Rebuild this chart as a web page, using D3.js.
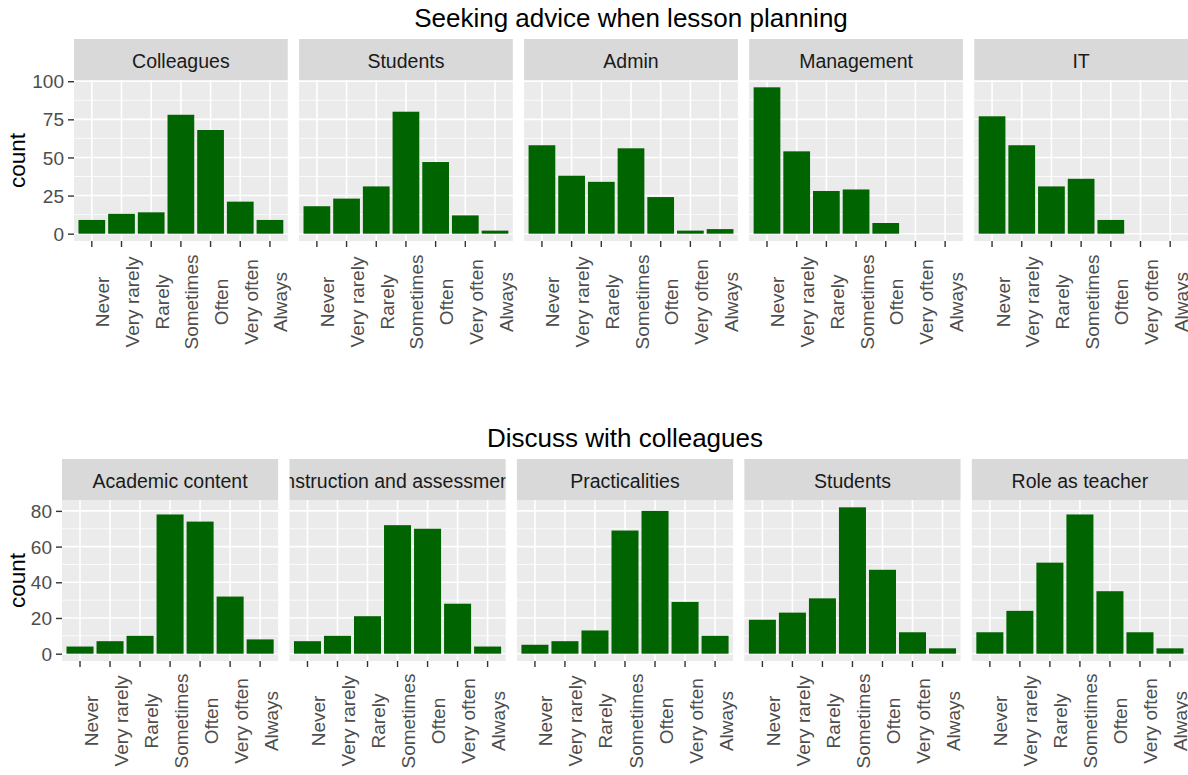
<!DOCTYPE html>
<html>
<head>
<meta charset="utf-8">
<script src="https://cdn.jsdelivr.net/npm/d3@7"></script>
<style>
  body { margin: 0; background: #fff; }
  svg { display: block; font-family: "Liberation Sans", Arial, sans-serif; }
  .strip-bg { fill: #d9d9d9; }
  .panel-bg { fill: #ebebeb; }
  .grid-major { stroke: #fff; stroke-width: 1.6; }
  .grid-minor { stroke: #fff; stroke-width: 0.8; }
  .bar { fill: #006400; }
  .axis line { stroke: #333; stroke-width: 1.4; }
  .axis text { fill: #4d4d4d; font-size: 19px; font-family: "Liberation Sans", Arial, sans-serif; }
  .strip-label { fill: #1a1a1a; font-size: 19.5px; }
  .axis-title { fill: #000; font-size: 22.5px; }
  .row-title { fill: #000; font-size: 26px; }
</style>
</head>
<body>
<div id="chart"></div>
<script>
// answer levels on the x axis
const levels = ["Never", "Very rarely", "Rarely", "Sometimes", "Often", "Very often", "Always"];

// Seeking advice when lesson planning
const adviceGroups = ["Colleagues", "Students", "Admin", "Management", "IT"];
const adviceColleagues = [9, 13, 14, 78, 68, 21, 9];
const adviceStudents = [18, 23, 31, 80, 47, 12, 2];
const adviceAdmin = [58, 38, 34, 56, 24, 2, 3];
const adviceManagement = [96, 54, 28, 29, 7, 0, 0];
const adviceIT = [77, 58, 31, 36, 9, 0, 0];
const adviceTicks = [0, 25, 50, 75, 100];

// Discuss with colleagues
const discussGroups = ["Academic content", "Instruction and assessment", "Practicalities", "Students", "Role as teacher"];
const discussAcademic = [4, 7, 10, 78, 74, 32, 8];
const discussInstruction = [7, 10, 21, 72, 70, 28, 4];
const discussPracticalities = [5, 7, 13, 69, 80, 29, 10];
const discussStudents = [19, 23, 31, 82, 47, 12, 3];
const discussRole = [12, 24, 51, 78, 35, 12, 3];
const discussTicks = [0, 20, 40, 60, 80];

class FacetBarRow {

  constructor(_config, _data) {
    this.config = _config;
    this.data = _data;
    this.initVis();
  }

  initVis() {
    let vis = this;
    const c = vis.config;

    vis.panelTop = c.stripTop + c.stripHeight;
    vis.panelHeight = c.panelBottom - vis.panelTop;
    vis.panelWidth = (c.right - c.left - c.gap * (vis.data.length - 1)) / vis.data.length;

    // ggplot style: 0.6 unit expansion each side, bars 0.9 wide
    vis.xScale = d3.scaleBand()
      .domain(levels)
      .range([0, vis.panelWidth])
      .paddingInner(0.1)
      .paddingOuter(0.15);

    const maxVal = d3.max(vis.data, d => d3.max(d.values));
    vis.yScale = d3.scaleLinear()
      .domain([-0.05 * maxVal, 1.05 * maxVal])
      .range([vis.panelHeight, 0]);

    vis.g = c.svg.append('g');

    // row title
    vis.g.append('text')
      .attr('class', 'row-title')
      .attr('x', (c.left + c.right) / 2)
      .attr('y', c.stripTop - 12)
      .attr('text-anchor', 'middle')
      .text(c.title);

    // y axis title
    vis.g.append('text')
      .attr('class', 'axis-title')
      .attr('transform', `translate(25,${vis.panelTop + vis.panelHeight / 2}) rotate(-90)`)
      .attr('text-anchor', 'middle')
      .text('count');

    vis.renderVis();
  }

  renderVis() {
    let vis = this;
    const c = vis.config;

    const ticks = c.ticks;
    const [lo, hi] = vis.yScale.domain();
    const minor = d3.pairs(ticks).map(([a, b]) => (a + b) / 2)
      .concat([ticks[0] - (ticks[1] - ticks[0]) / 2, ticks[ticks.length - 1] + (ticks[1] - ticks[0]) / 2])
      .filter(v => v > lo && v < hi);

    const panels = vis.g.selectAll('.panel')
      .data(vis.data)
      .join('g')
      .attr('class', 'panel')
      .attr('transform', (d, i) => `translate(${c.left + i * (vis.panelWidth + c.gap)},${vis.panelTop})`);

    // strip
    panels.append('clipPath')
      .attr('id', (d, i) => `${c.id}-clip-${i}`)
      .append('rect')
      .attr('y', -c.stripHeight)
      .attr('width', vis.panelWidth)
      .attr('height', c.stripHeight);

    panels.append('rect')
      .attr('class', 'strip-bg')
      .attr('y', -c.stripHeight)
      .attr('width', vis.panelWidth)
      .attr('height', c.stripHeight);

    panels.append('text')
      .attr('class', 'strip-label')
      .attr('clip-path', (d, i) => `url(#${c.id}-clip-${i})`)
      .attr('x', vis.panelWidth / 2)
      .attr('y', -12.5)
      .attr('text-anchor', 'middle')
      .text(d => d.name);

    // panel background + grid
    panels.append('rect')
      .attr('class', 'panel-bg')
      .attr('width', vis.panelWidth)
      .attr('height', vis.panelHeight);

    panels.selectAll('.grid-minor')
      .data(minor)
      .join('line')
      .attr('class', 'grid-minor')
      .attr('x2', vis.panelWidth)
      .attr('y1', d => vis.yScale(d))
      .attr('y2', d => vis.yScale(d));

    panels.selectAll('.grid-major.h')
      .data(ticks)
      .join('line')
      .attr('class', 'grid-major h')
      .attr('x2', vis.panelWidth)
      .attr('y1', d => vis.yScale(d))
      .attr('y2', d => vis.yScale(d));

    panels.selectAll('.grid-major.v')
      .data(levels)
      .join('line')
      .attr('class', 'grid-major v')
      .attr('x1', d => vis.xScale(d) + vis.xScale.bandwidth() / 2)
      .attr('x2', d => vis.xScale(d) + vis.xScale.bandwidth() / 2)
      .attr('y2', vis.panelHeight);

    // bars
    panels.selectAll('.bar')
      .data(d => d.values.map((v, i) => ({ level: levels[i], value: v })).filter(b => b.value > 0))
      .join('rect')
      .attr('class', 'bar')
      .attr('x', d => vis.xScale(d.level))
      .attr('width', vis.xScale.bandwidth())
      .attr('y', d => vis.yScale(d.value))
      .attr('height', d => vis.yScale(0) - vis.yScale(d.value));

    // x axis with rotated, centred labels
    const xAxis = d3.axisBottom(vis.xScale).tickSize(6).tickSizeOuter(0);
    panels.append('g')
      .attr('class', 'axis x-axis')
      .attr('transform', `translate(0,${vis.panelHeight})`)
      .call(xAxis)
      .call(g => g.select('.domain').remove())
      .selectAll('text')
      .attr('transform', 'rotate(-90)')
      .attr('text-anchor', 'middle')
      .attr('x', -c.labelOffset)
      .attr('y', 17.5)
      .attr('dy', null);

    // y axis only on first panel
    const yAxis = d3.axisLeft(vis.yScale).tickValues(ticks).tickSize(6).tickPadding(4);
    panels.filter((d, i) => i === 0)
      .append('g')
      .attr('class', 'axis y-axis')
      .call(yAxis)
      .call(g => g.select('.domain').remove())
      .selectAll('text')
      .attr('dy', '0.35em');
  }
}

const svg = d3.select('#chart')
  .append('svg')
  .attr('width', 1188)
  .attr('height', 775);

svg.append('rect').attr('width', 1188).attr('height', 775).attr('fill', '#fff');

const adviceValues = [adviceColleagues, adviceStudents, adviceAdmin, adviceManagement, adviceIT];
const discussValues = [discussAcademic, discussInstruction, discussPracticalities, discussStudents, discussRole];

new FacetBarRow({
  svg: svg,
  id: 'advice',
  title: 'Seeking advice when lesson planning',
  ticks: adviceTicks,
  left: 74,
  right: 1188,
  gap: 11.3,
  stripTop: 39,
  stripHeight: 41,
  panelBottom: 241,
  labelOffset: 61
}, adviceGroups.map((name, i) => ({ name: name, values: adviceValues[i] })));

new FacetBarRow({
  svg: svg,
  id: 'discuss',
  title: 'Discuss with colleagues',
  ticks: discussTicks,
  left: 62,
  right: 1188,
  gap: 11.3,
  stripTop: 459,
  stripHeight: 41,
  panelBottom: 661,
  labelOffset: 60
}, discussGroups.map((name, i) => ({ name: name, values: discussValues[i] })));
</script>
</body>
</html>
